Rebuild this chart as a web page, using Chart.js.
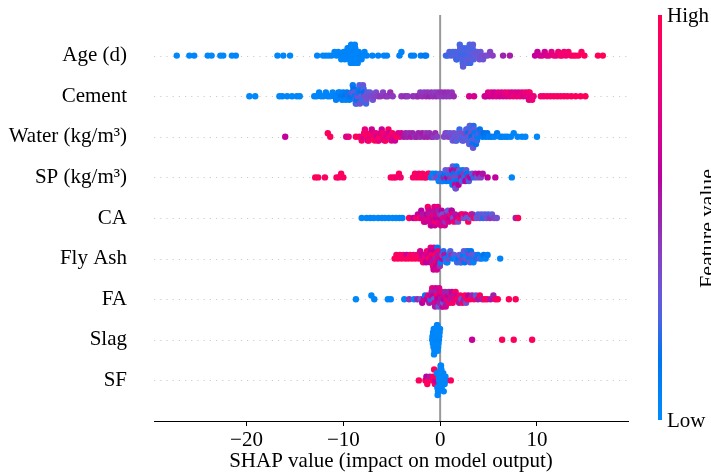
<!DOCTYPE html>
<html>
<head>
<meta charset="utf-8">
<script src="https://cdn.jsdelivr.net/npm/chart.js@4.4.1/dist/chart.umd.min.js"></script>
<style>
  body { margin: 0; background: #fff; }
  #wrap { width: 711px; height: 476px; position: relative; }
</style>
</head>
<body>
<div id="wrap"><canvas id="chart"></canvas></div>
<script>
// Feature names, top to bottom
const features = ['Age (d)', 'Cement', 'Water (kg/m\u00b3)', 'SP (kg/m\u00b3)', 'CA', 'Fly Ash', 'FA', 'Slag', 'SF'];
const xTicks = [-20, -10, 0, 10];
const xTitle = 'SHAP value (impact on model output)';
const cbTicks = ['Low', 'High'];
const cbLabel = 'Feature value';

// [SHAP value, normalised feature value (0 = low, 1 = high)]
const age = [
  [-27.2,.02],[-25.9,.02],[-25.4,.03],[-24.0,.02],[-23.6,.02],[-22.7,.03],[-22.4,.02],[-21.5,.02],[-21.1,.03],[-16.8,.02],[-16.2,.03],[-15.5,.02],
  [-12.7,.03],[-12.1,.02],[-11.8,.03],[-11.5,.02],[-11.2,.04],[-10.9,.03],
  [-10.7,.04],[-10.52,.03],[-10.33,.05],[-10.21,.03],[-10.04,.04],[-9.96,.06],[-9.84,.03],[-9.77,.05],[-9.63,.04],[-9.56,.03],
  [-9.47,.05],[-9.43,.03],[-9.35,.06],[-9.31,.04],[-9.23,.03],[-9.19,.05],[-9.11,.04],[-9.07,.06],[-9.01,.03],[-8.93,.05],[-8.89,.04],[-8.81,.03],[-8.77,.06],[-8.69,.04],[-8.66,.05],[-8.57,.03],[-8.51,.05],
  [-8.41,.04],[-8.27,.06],[-8.12,.04],[-7.93,.05],[-7.81,.04],[-7.58,.05],
  [-7.0,.05],[-6.4,.06],[-5.8,.05],[-5.5,.06],[-4.2,.07],[-4.0,.06],[-3.0,.08],[-2.7,.07],[-2.0,.09],[-1.6,.13],[-1.45,.11],
  [0.6,.24],[0.78,.22],[0.96,.27],[1.13,.25],[1.31,.23],[1.47,.28],[1.56,.24],[1.67,.26],[1.74,.22],[1.86,.27],[1.94,.25],
  [2.03,.23],[2.07,.28],[2.15,.25],[2.19,.22],[2.27,.27],[2.33,.24],[2.37,.29],[2.45,.23],[2.51,.26],[2.55,.22],[2.63,.27],[2.67,.25],[2.75,.28],[2.81,.23],[2.85,.26],[2.93,.24],[2.97,.3],[3.05,.25],[3.11,.22],[3.15,.28],[3.23,.26],[3.27,.3],[3.35,.24],[3.39,.29],[3.47,.27],
  [3.58,.3],[3.71,.28],[3.83,.32],[3.92,.3],[4.07,.34],[4.17,.31],[4.31,.36],[4.43,.33],[4.66,.38],[4.9,.36],[5.16,.4],[5.42,.42],
  [6.5,.5],[7.2,.53],
  [9.8,.62],[10.05,.64],[10.3,.66],[10.55,.7],[10.8,.68],[11.0,.72],[11.25,.75],[11.5,.76],[11.75,.8],[12.0,.78],[12.2,.84],[12.4,.82],[12.6,.88],[12.8,.86],[13.0,.84],[13.25,.88],[13.5,.9],[13.75,.92],[14.0,.92],[14.3,.94],[14.6,.93],[14.9,.95],[16.3,.97],[16.8,.98]
];
const cement = [
  [-19.7,.02],[-19.1,.02],[-16.6,.02],[-16.3,.03],[-15.8,.02],[-15.3,.02],[-14.8,.03],[-14.5,.02],
  [-13.0,.04],[-12.75,.03],[-12.5,.05],[-12.3,.04],[-12.05,.03],[-11.8,.06],[-11.6,.04],[-11.35,.05],[-11.1,.03],
  [-10.9,.06],[-10.75,.08],[-10.62,.05],[-10.5,.1],[-10.37,.06],[-10.26,.12],[-10.12,.07],[-10.0,.09],[-9.87,.15],[-9.76,.06],[-9.62,.11],[-9.5,.2],[-9.38,.08],[-9.25,.14],[-9.14,.25],[-9.02,.1],
  [-8.96,.18],[-8.9,.3],[-8.83,.12],[-8.78,.22],[-8.71,.08],[-8.64,.28],[-8.59,.15],[-8.52,.33],[-8.47,.2],[-8.4,.1],[-8.33,.26],[-8.28,.35],[-8.21,.16],[-8.16,.3],[-8.09,.22],[-8.03,.12],[-7.97,.32],[-7.9,.25],[-7.84,.18],[-7.77,.36],[-7.72,.28],[-7.65,.22],[-7.59,.34],[-7.52,.3],
  [-7.4,.36],[-7.25,.3],[-7.1,.38],[-6.95,.33],[-6.8,.4],[-6.62,.37],
  [-6.4,.42],[-6.15,.45],[-5.9,.4],[-5.62,.46],[-5.4,.43],[-5.15,.47],[-4.9,.44],[-4.0,.46],[-3.6,.48],[-3.35,.44],[-2.8,.47],[-2.45,.45],[-2.25,.49],[-2.05,.44],[-1.85,.47],[-1.65,.43],[-1.45,.48],[-1.3,.45],[-1.1,.5],[-0.92,.44],[-0.75,.47],[-0.55,.42],[-0.4,.48],[-0.22,.45],[-0.05,.43],[0.12,.47],[0.3,.44],[0.48,.48],[0.65,.45],[0.82,.47],[1.0,.44],[1.2,.46],[1.4,.48],
  [3.0,.72],[3.5,.7],
  [4.6,.7],[4.75,.66],[4.95,.74],[5.1,.68],[5.3,.76],[5.45,.7],[5.62,.66],[5.8,.73],[6.0,.78],[6.15,.68],[6.35,.74],[6.5,.71],[6.7,.8],[6.85,.72],[7.05,.86],[7.2,.76],[7.4,.7],[7.55,.84],[7.75,.75],[7.9,.8],[8.1,.72],[8.25,.82],[8.45,.76],[8.6,.74],[8.8,.84],[8.95,.76],[9.1,.8],[9.17,.74],[9.24,.88],[9.32,.78],[9.5,.84],[9.65,.8],
  [10.4,.88],[10.7,.86],[11.05,.9],[11.4,.88],[11.75,.92],[12.1,.9],[12.45,.93],[12.8,.91],[13.15,.94],[13.55,.93],[14.0,.95],[14.5,.95],[15.0,.97]
];
const water = [
  [-16.0,.62],[-11.6,.95],[-11.35,.95],[-9.7,.72],[-9.45,.8],[-8.7,.95],[-8.35,.92],
  [-8.1,.9],[-7.98,.7],[-7.86,.95],[-7.77,.8],[-7.66,.86],[-7.55,.95],[-7.47,.7],[-7.36,.9],[-7.27,.8],[-7.15,.95],[-7.06,.68],[-6.95,.9],[-6.84,.76],[-6.75,.95],[-6.63,.8],[-6.55,.7],[-6.44,.9],[-6.33,.78],[-6.25,.95],[-6.14,.72],[-6.03,.66],[-5.94,.86],[-5.83,.8],[-5.74,.7],[-5.63,.95],[-5.53,.75],[-5.45,.8],[-5.34,.9],[-5.24,.68],[-5.13,.86],[-5.02,.72],[-4.93,.9],[-4.8,.78],[-4.66,.66],[-4.5,.95],[-4.33,.72],[-4.15,.88],[-4.0,.7],
  [-3.75,.55],[-3.55,.5],[-3.4,.52],[-3.2,.48],[-3.0,.55],[-2.85,.5],[-2.6,.46],[-2.42,.52],[-2.25,.5],[-2.05,.48],[-1.85,.54],[-1.65,.5],[-1.45,.45],[-1.3,.52],[-1.1,.47],[-0.9,.5],[-0.7,.44],[-0.5,.48],[-0.33,.42],
  [0.4,.38],[0.56,.42],[0.7,.35],[0.85,.4],[1.02,.32],[1.16,.38],[1.3,.3],[1.42,.36],[1.51,.28],[1.6,.4],[1.7,.26],[1.81,.34],[1.9,.3],[2.0,.22],[2.11,.36],[2.2,.28],[2.3,.2],[2.41,.32],[2.5,.26],[2.6,.38],[2.7,.22],[2.8,.3],[2.86,.18],[2.9,.34],[2.95,.24],[3.0,.28],[3.06,.16],[3.1,.3],[3.15,.22],[3.2,.36],[3.25,.18],[3.3,.26],[3.35,.14],[3.4,.32],[3.45,.2],[3.5,.28],[3.55,.12],[3.6,.24],[3.65,.3],[3.7,.16],[3.8,.22],[3.9,.1],[4.0,.26],[4.1,.14],[4.2,.2],[4.35,.1],[4.52,.18],[4.7,.12],[4.86,.16],[5.02,.08],
  [5.3,.1],[5.6,.06],[5.88,.12],[6.15,.05],[6.4,.08],[6.7,.04],[6.95,.06],[7.3,.04],[7.6,.05],[8.0,.03],[8.45,.04],[8.8,.03],[10.0,.02]
];
const sp = [
  [-12.9,.95],[-12.6,.95],[-11.9,.93],[-10.7,.95],[-10.48,.92],[-10.22,.95],[-10.0,.93],
  [-5.1,.9],[-4.82,.95],[-4.6,.9],[-4.25,.95],[-4.08,.86],
  [-2.8,.9],[-2.6,.95],[-2.4,.9],[-2.2,.86],[-2.0,.95],[-1.82,.9],[-1.62,.93],[-1.45,.88],[-1.25,.95],[-1.08,.9],
  [-0.95,.1],[-0.78,.05],[-0.6,.3],[-0.45,.1],[-0.3,.4],[-0.15,.05],[0.0,.25],
  [0.08,.1],[0.18,.35],[0.27,.05],[0.37,.5],[0.46,.15],[0.56,.3],[0.65,.1],[0.74,.6],[0.83,.2],[0.92,.35],[1.01,.1],[1.1,.45],[1.17,.2],
  [1.22,.6],[1.27,.1],[1.31,.3],[1.36,.65],[1.41,.15],[1.45,.4],[1.5,.1],[1.54,.7],[1.59,.25],[1.63,.35],[1.68,.1],[1.72,.55],[1.77,.2],[1.81,.4],[1.86,.15],[1.9,.6],
  [1.98,.3],[2.07,.15],[2.16,.55],[2.25,.25],[2.34,.1],[2.43,.45],[2.52,.2],[2.61,.6],[2.7,.3],[2.79,.15],[2.88,.5],[2.97,.25],
  [3.12,.6],[3.3,.3],[3.47,.2],[3.64,.55],[3.82,.35],[4.0,.6],[4.2,.4],[4.4,.55],
  [4.9,.6],[5.7,.62],[7.4,.04]
];
const ca = [
  [-8.1,.02],[-7.6,.02],[-7.2,.03],[-6.85,.02],[-6.4,.02],[-6.0,.03],[-5.7,.02],[-5.3,.03],[-4.9,.02],[-4.55,.03],[-4.2,.04],[-3.9,.05],
  [-3.2,.95],[-2.75,.6],[-2.5,.85],[-2.3,.65],[-2.1,.9],[-1.95,.6],
  [-1.85,.7],[-1.75,.55],[-1.66,.8],[-1.55,.65],[-1.46,.75],[-1.36,.6],[-1.27,.9],
  [-1.2,.7],[-1.14,.55],[-1.08,.75],[-1.02,.65],[-0.96,.85],[-0.9,.6],[-0.84,.72],[-0.78,.68],[-0.72,.8],[-0.66,.55],[-0.6,.75],[-0.54,.65],[-0.48,.9],[-0.42,.6],[-0.36,.72],[-0.3,.68],[-0.24,.8],[-0.18,.5],[-0.12,.75],[-0.06,.65],
  [0.0,.45],[0.08,.72],[0.16,.6],[0.24,.35],[0.32,.8],[0.4,.55],[0.48,.7],[0.56,.45],[0.64,.75],[0.72,.55],[0.8,.3],[0.88,.72],[0.96,.65],[1.04,.9],[1.12,.4],[1.2,.6],[1.28,.75],[1.36,.3],[1.44,.85],
  [1.55,.55],[1.7,.7],[1.85,.35],[2.0,.9],[2.15,.6],[2.3,.95],[2.45,.35],[2.6,.75],[2.75,.3],[2.9,.95],[3.05,.3],[3.2,.9],[3.35,.5],[3.5,.95],
  [3.75,.3],[3.92,.25],[4.1,.35],[4.27,.3],[4.45,.2],[4.62,.3],[4.8,.35],[4.97,.25],[5.15,.45],[5.35,.3],[5.6,.4],[5.85,.35],
  [7.8,.5],[8.05,.95]
];
const flyAsh = [
  [-4.7,.95],[-4.52,.9],[-4.35,.95],[-4.15,.92],[-3.98,.95],[-3.8,.9],[-3.6,.95],[-3.45,.62],[-3.28,.95],[-3.1,.9],[-2.92,.95],[-2.75,.85],[-2.58,.95],[-2.4,.88],[-2.22,.95],[-2.06,.7],
  [-1.95,.8],[-1.85,.65],[-1.76,.9],[-1.65,.7],[-1.56,.8],[-1.45,.6],[-1.36,.85],[-1.26,.7],[-1.16,.9],[-1.05,.65],
  [-0.98,.8],[-0.93,.6],[-0.88,.9],[-0.83,.7],[-0.78,.55],[-0.73,.85],[-0.68,.65],[-0.63,.75],[-0.58,.6],[-0.53,.9],[-0.48,.5],[-0.43,.8],[-0.38,.65],[-0.33,.7],[-0.28,.15],[-0.23,.85],[-0.18,.55],[-0.13,.75],[-0.08,.6],[-0.03,.45],
  [0.05,.1],[0.15,.65],[0.25,.4],[0.35,.2],[0.45,.55],[0.55,.1],[0.65,.3],[0.75,.05],[0.85,.4],[0.95,.1],[1.05,.25],[1.15,.45],
  [1.3,.1],[1.45,.3],[1.6,.05],[1.75,.25],[1.9,.15],
  [2.0,.3],[2.09,.05],[2.18,.25],[2.27,.4],[2.36,.1],[2.45,.3],[2.54,.15],[2.62,.35],[2.7,.05],[2.78,.25],[2.86,.2],[2.94,.4],[3.02,.1],[3.1,.3],[3.18,.15],[3.26,.35],[3.35,.2],[3.44,.05],[3.53,.3],
  [3.7,.2],[3.9,.1],[4.1,.3],[4.3,.05],[4.5,.15],[4.7,.05],[4.9,.1],[6.2,.05]
];
const fa = [
  [-8.7,.02],[-7.1,.02],[-6.8,.03],[-5.4,.02],[-5.1,.03],[-3.7,.05],[-3.2,.45],[-2.7,.05],[-2.35,.5],
  [-2.0,.3],[-1.85,.6],[-1.7,.7],[-1.55,.1],[-1.4,.65],[-1.25,.8],[-1.12,.55],
  [-1.0,.2],[-0.94,.7],[-0.88,.55],[-0.82,.8],[-0.76,.5],[-0.7,.65],[-0.64,.3],[-0.58,.75],[-0.52,.55],[-0.46,.7],[-0.4,.5],[-0.34,.85],[-0.28,.6],[-0.22,.65],[-0.16,.3],[-0.1,.72],[-0.04,.5],[0.02,.65],[0.08,.55],[0.14,.8],[0.2,.45],[0.26,.65],[0.32,.3],[0.38,.6],[0.44,.75],[0.5,.5],
  [0.58,.7],[0.66,.55],[0.74,.85],[0.82,.65],[0.9,.5],[0.98,.9],[1.06,.55],[1.14,.75],[1.22,.65],[1.3,.9],[1.38,.55],[1.46,.8],
  [1.6,.9],[1.72,.7],[1.84,.95],[1.96,.55],[2.08,.9],[2.2,.3],[2.32,.95],[2.44,.5],[2.56,.95],[2.68,.35],[2.8,.9],[2.92,.6],
  [3.1,.95],[3.3,.5],[3.5,.9],[3.7,.3],[3.9,.55],[4.1,.95],[4.35,.5],[4.6,.95],[4.85,.9],
  [5.2,.55],[5.5,.5],[5.7,.85],[5.95,.95],[7.1,.95],[7.8,.95]
];
const slag = [
  [-0.82,.02],[-0.79,.03],[-0.75,.02],[-0.73,.04],[-0.69,.02],[-0.66,.03],
  [-0.63,.02],[-0.59,.04],[-0.57,.03],[-0.52,.02],[-0.49,.04],[-0.44,.02],[-0.41,.03],[-0.37,.02],[-0.32,.04],
  [-0.29,.03],[-0.25,.02],[-0.21,.03],[-0.17,.02],[-0.12,.04],[-0.09,.03],[-0.05,.02],[-0.01,.03],
  [3.3,.65],[6.4,.95],[7.6,.95],[9.5,.95]
];
const sf = [
  [-2.2,.95],[-1.52,.95],[-1.42,.6],[-1.33,.95],[-1.22,.9],[-1.06,.55],
  [-0.82,.95],[-0.72,.9],[-0.62,.95],[-0.54,.9],[-0.47,.6],[-0.4,.95],[-0.33,.05],[-0.29,.04],
  [-0.26,.03],[-0.22,.05],[-0.18,.03],[-0.14,.04],[-0.1,.02],[-0.06,.04],[-0.03,.03],[0.01,.05],[0.05,.03],
  [0.09,.04],[0.13,.02],[0.16,.05],[0.2,.03],[0.24,.04],[0.28,.03],[0.32,.05],[0.37,.03],
  [0.46,.04],[0.55,.03],[0.64,.05],
  [1.1,.95]
];
const rows = [age, cement, water, sp, ca, flyAsh, fa, slag, sf];

const serif = '"Liberation Serif", "Times New Roman", serif';

// shap-style red/blue colour map (interpolated in LCH space)
function redBlue(t) {
  t = Math.min(1, Math.max(0, t));
  const L = t < 0.5 ? 54 - 28 * t : 40 + 28 * (t - 0.5);
  const C = 70 + 20 * t;
  const H = 4.6588 + (0.35470565 + 2 * Math.PI - 4.6588) * t;
  const a = C * Math.cos(H), b = C * Math.sin(H);
  const fy = (L + 16) / 116, fx = fy + a / 500, fz = fy - b / 200;
  const finv = f => f > 0.206893 ? f * f * f : (f - 16 / 116) / 7.787;
  const X = 0.95047 * finv(fx), Y = finv(fy), Z = 1.08883 * finv(fz);
  const r = 3.2404542 * X - 1.5371385 * Y - 0.4985314 * Z;
  const g = -0.9692660 * X + 1.8760108 * Y + 0.0415560 * Z;
  const bl = 0.0556434 * X - 0.2040259 * Y + 1.0572252 * Z;
  const gam = v => {
    v = v > 0.0031308 ? 1.055 * Math.pow(v, 1 / 2.4) - 0.055 : 12.92 * v;
    return Math.round(255 * Math.min(1, Math.max(0, v)));
  };
  return `rgb(${gam(r)},${gam(g)},${gam(bl)})`;
}

// beeswarm layout: bin the values, stack points alternately up / down
function swarmOffsets(xs) {
  const bw = 0.35;
  const mn = Math.min(...xs);
  const bins = xs.map(v => Math.round((v - mn) / bw));
  const dist = i => Math.abs(xs[i] - mn - bins[i] * bw);
  const order = xs.map((v, i) => i).sort((a, b) => (bins[a] - bins[b]) || (dist(a) - dist(b)));
  const ys = new Array(xs.length).fill(0);
  let layer = 0, last = -1;
  order.forEach(i => {
    if (bins[i] !== last) layer = 0;
    ys[i] = Math.ceil(layer / 2) * ((layer % 2) * 2 - 1);
    layer++;
    last = bins[i];
  });
  const m = Math.max(1, ...ys.map(Math.abs));
  const step = Math.min(0.09, 0.36 / m);
  return ys.map(y => y * step);
}

const datasets = rows.map((pts, i) => {
  const off = swarmOffsets(pts.map(p => p[0]));
  const pos = features.length - 1 - i;
  return {
    data: pts.map((p, k) => ({ x: p[0], y: pos + off[k] })),
    backgroundColor: pts.map(p => redBlue(p[1])),
    borderWidth: 0,
    pointRadius: 3.2,
    pointHoverRadius: 3.2
  };
});

// dotted row lines and the zero line, under the points
const guides = {
  id: 'guides',
  beforeDatasetsDraw(chart) {
    const { ctx, chartArea: a, scales: { x, y } } = chart;
    ctx.save();
    ctx.strokeStyle = '#cccccc';
    ctx.lineWidth = 1;
    ctx.setLineDash([1.2, 5]);
    features.forEach((f, i) => {
      const py = Math.round(y.getPixelForValue(i)) + 0.5;
      ctx.beginPath();
      ctx.moveTo(a.left, py);
      ctx.lineTo(a.right, py);
      ctx.stroke();
    });
    ctx.setLineDash([]);
    ctx.strokeStyle = '#999999';
    ctx.lineWidth = 2;
    const px = x.getPixelForValue(0);
    ctx.beginPath();
    ctx.moveTo(px, a.top);
    ctx.lineTo(px, a.bottom);
    ctx.stroke();
    ctx.restore();
  }
};

// colour bar on the right
const colorBar = {
  id: 'colorBar',
  afterDraw(chart) {
    const { ctx, chartArea: a } = chart;
    const x0 = a.right + 30, w = 4, top = a.top, bot = a.bottom - 1;
    ctx.save();
    const g = ctx.createLinearGradient(0, bot, 0, top);
    for (let k = 0; k <= 20; k++) g.addColorStop(k / 20, redBlue(k / 20));
    ctx.fillStyle = g;
    ctx.fillRect(x0, top, w, bot - top);
    ctx.fillStyle = '#000';
    ctx.font = '21px ' + serif;
    ctx.textAlign = 'left';
    ctx.textBaseline = 'middle';
    ctx.fillText(cbTicks[1], x0 + w + 5, top + 1);
    ctx.fillText(cbTicks[0], x0 + w + 5, bot + 1);
    ctx.translate(714, (top + bot) / 2 + 11);
    ctx.rotate(-Math.PI / 2);
    ctx.textAlign = 'center';
    ctx.textBaseline = 'alphabetic';
    ctx.font = '22px ' + serif;
    ctx.fillText(cbLabel, 0, 0);
    ctx.restore();
  }
};

new Chart(document.getElementById('chart'), {
  type: 'scatter',
  data: { datasets },
  options: {
    responsive: true,
    maintainAspectRatio: false,
    animation: false,
    events: [],
    layout: { padding: { top: 15, right: 83, bottom: 0, left: 0 } },
    plugins: { legend: { display: false }, tooltip: { enabled: false } },
    scales: {
      x: {
        type: 'linear',
        min: -29.55,
        max: 19.4,
        afterBuildTicks: s => { s.ticks = xTicks.map(v => ({ value: v })); },
        afterFit: s => { s.height = 55; s.paddingLeft = 0; s.paddingRight = 0; },
        ticks: {
          font: { family: serif, size: 21 },
          color: '#000',
          padding: 2,
          callback: v => v < 0 ? '\u2212' + Math.abs(v) : String(v)
        },
        grid: { drawOnChartArea: false, drawTicks: true, tickLength: 5, color: '#000', lineWidth: 1 },
        border: { color: '#000', width: 1 },
        title: { display: true, text: xTitle, font: { family: serif, size: 21 }, color: '#000', padding: { top: 0, bottom: 2 } }
      },
      y: {
        type: 'linear',
        min: -1,
        max: 9,
        afterBuildTicks: s => { s.ticks = features.map((f, i) => ({ value: i })); },
        afterFit: s => { s.width = 154; s.paddingTop = 0; s.paddingBottom = 0; },
        ticks: {
          font: { family: serif, size: 21 },
          color: '#000',
          padding: 27,
          callback: v => features[features.length - 1 - v]
        },
        grid: { display: false, drawTicks: false },
        border: { display: false }
      }
    }
  },
  plugins: [guides, colorBar]
});
</script>
</body>
</html>
